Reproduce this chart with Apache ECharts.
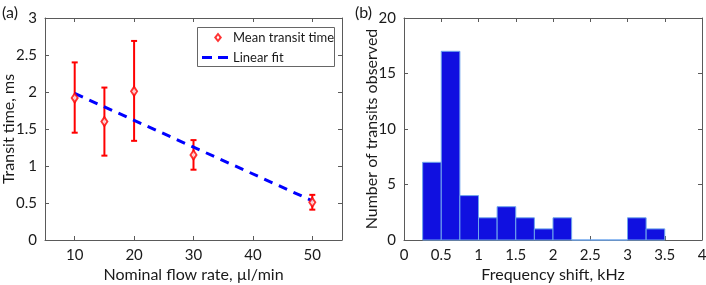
<!DOCTYPE html>
<html>
<head>
<meta charset="utf-8">
<script src="https://cdn.jsdelivr.net/npm/echarts@6/dist/echarts.min.js"></script>
<style>html,body{margin:0;padding:0;background:#fff}#c{width:706px;height:285px}</style>
</head>
<body>
<div id="c"></div>
<script>
// Panel (a) data
var flowRates = [10, 15, 20, 30, 50];
var meanTimes = [1.92, 1.60, 2.01, 1.15, 0.51];
var errLow = [1.45, 1.14, 1.34, 0.95, 0.41];
var errHigh = [2.40, 2.06, 2.69, 1.35, 0.61];
var fitX = [10, 50];
var fitY = [1.98, 0.53];
var flowTicks = [10, 20, 30, 40, 50];
// Panel (b) data
var binStarts = [0.25, 0.5, 0.75, 1.0, 1.25, 1.5, 1.75, 2.0, 2.25, 2.5, 2.75, 3.0, 3.25];
var binWidth = 0.25;
var counts = [7, 17, 4, 2, 3, 2, 1, 2, 0, 0, 0, 2, 1];

var FONT = 'Lato';
var AX = '#5a5a5a';
var TXT = '#1a1a1a';
var NAMESIZE = 16;

function axisBase(extra) {
  var a = {
    type: 'value',
    nameMoveOverlap: false,
    axisLine: {show: true, onZero: false, lineStyle: {color: AX, width: 1}},
    axisTick: {show: true, inside: true, length: 4, lineStyle: {color: AX}},
    axisLabel: {show: true, color: TXT, fontFamily: FONT, fontSize: 15, margin: 8},
    splitLine: {show: false},
    nameTextStyle: {color: TXT, fontFamily: FONT, fontSize: NAMESIZE}
  };
  for (var k in extra) a[k] = extra[k];
  return a;
}

var chart = echarts.init(document.getElementById('c'), null, {renderer: 'canvas'});

var errData = flowRates.map(function (x, i) { return [x, errLow[i], errHigh[i]]; });
var fitData = [[fitX[0], fitY[0], fitX[1], fitY[1]]];
var histData = binStarts.map(function (s, i) { return [s, s + binWidth, counts[i]]; });

var option = {
  animation: false,
  textStyle: {fontFamily: FONT},
  title: [
    {text: '(a)', left: 2, top: 5, padding: 0, textStyle: {fontFamily: FONT, fontSize: 16, fontWeight: 'normal', color: TXT}},
    {text: '(b)', left: 355, top: 5, padding: 0, textStyle: {fontFamily: FONT, fontSize: 16, fontWeight: 'normal', color: TXT}}
  ],
  graphic: [
    {type: 'rect', left: 197, top: 27, shape: {width: 137, height: 39},
      style: {fill: '#fff', stroke: '#666', lineWidth: 1}, z: 10}
  ],
  legend: [
    {
      left: 214, top: 31, padding: 0, itemWidth: 8, itemHeight: 10, z: 20,
      textStyle: {fontFamily: FONT, fontSize: 13, color: TXT, padding: [0, 0, 0, 6]},
      data: [{name: 'Mean transit time',
        icon: 'path://M4,0L8,5L4,10L0,5Z M4,3L2.6,5L4,7L5.4,5Z',
        itemStyle: {color: '#ff0000', borderWidth: 0}}]
    },
    {
      left: 202, top: 51, padding: 0, itemWidth: 26, itemHeight: 3, z: 20,
      textStyle: {fontFamily: FONT, fontSize: 13, color: TXT},
      data: [{name: 'Linear fit', icon: 'path://M0,0H10V3H0Z M16,0H26V3H16Z',
        itemStyle: {color: '#0000ff', borderWidth: 0}}]
    }
  ],
  grid: [
    {left: 45, top: 18, width: 297, height: 222, outerBoundsMode: 'none', containLabel: false},
    {left: 404, top: 18, width: 298, height: 222, outerBoundsMode: 'none', containLabel: false}
  ],
  xAxis: [
    axisBase({gridIndex: 0, position: 'bottom', min: 5, max: 55,
      name: 'Nominal flow rate, µl/min', nameLocation: 'middle', nameGap: 27,
      axisTick: {show: true, inside: true, length: 4, lineStyle: {color: AX}, customValues: flowTicks},
      axisLabel: {show: true, color: TXT, fontFamily: FONT, fontSize: 15, margin: 8, customValues: flowTicks}}),
    axisBase({gridIndex: 0, position: 'top', min: 5, max: 55,
      axisTick: {show: true, inside: true, length: 4, lineStyle: {color: AX}, customValues: flowTicks},
      axisLabel: {show: false}}),
    axisBase({gridIndex: 1, position: 'bottom', min: 0, max: 4, interval: 0.5,
      name: 'Frequency shift, kHz', nameLocation: 'middle', nameGap: 27}),
    axisBase({gridIndex: 1, position: 'top', min: 0, max: 4, interval: 0.5, axisLabel: {show: false}})
  ],
  yAxis: [
    axisBase({gridIndex: 0, position: 'left', min: 0, max: 3, interval: 0.5,
      name: 'Transit time, ms', nameLocation: 'middle', nameGap: 28}),
    axisBase({gridIndex: 0, position: 'right', min: 0, max: 3, interval: 0.5, axisLabel: {show: false}}),
    axisBase({gridIndex: 1, position: 'left', min: 0, max: 20, interval: 5,
      name: 'Number of transits observed', nameLocation: 'middle', nameGap: 24}),
    axisBase({gridIndex: 1, position: 'right', min: 0, max: 20, interval: 5, axisLabel: {show: false}})
  ],
  series: [
    {
      type: 'custom', name: 'errorbars', xAxisIndex: 0, yAxisIndex: 0, z: 3,
      data: errData,
      renderItem: function (params, api) {
        var x = api.value(0);
        var p1 = api.coord([x, api.value(1)]);
        var p2 = api.coord([x, api.value(2)]);
        var hw = 3;
        var st = {stroke: '#ff0000', lineWidth: 2};
        return {type: 'group', children: [
          {type: 'line', shape: {x1: p1[0], y1: p1[1], x2: p2[0], y2: p2[1]}, style: st},
          {type: 'line', shape: {x1: p1[0] - hw, y1: p1[1], x2: p1[0] + hw, y2: p1[1]}, style: st},
          {type: 'line', shape: {x1: p2[0] - hw, y1: p2[1], x2: p2[0] + hw, y2: p2[1]}, style: st}
        ]};
      }
    },
    {
      type: 'custom', name: 'Linear fit', xAxisIndex: 0, yAxisIndex: 0, z: 4,
      data: fitData,
      itemStyle: {color: '#0000ff'},
      renderItem: function (params, api) {
        var a = api.coord([api.value(0), api.value(1)]);
        var b = api.coord([api.value(2), api.value(3)]);
        return {type: 'line', shape: {x1: a[0], y1: a[1], x2: b[0], y2: b[1]},
          style: {stroke: '#0000ff', lineWidth: 3, lineDash: [9, 7], fill: null}};
      }
    },
    {
      type: 'scatter', name: 'Mean transit time', xAxisIndex: 0, yAxisIndex: 0, z: 5,
      data: flowRates.map(function (x, i) { return [x, meanTimes[i]]; }),
      symbol: 'emptyDiamond', symbolSize: [6, 9],
      itemStyle: {color: '#ff0000', borderColor: '#ff0000', borderWidth: 2.5}
    },
    {
      type: 'custom', name: 'hist', xAxisIndex: 2, yAxisIndex: 2, z: 2,
      data: histData,
      renderItem: function (params, api) {
        var a = api.coord([api.value(0), api.value(2)]);
        var b = api.coord([api.value(1), 0]);
        return {type: 'rect', shape: {x: a[0], y: a[1], width: b[0] - a[0], height: b[1] - a[1]},
          style: {fill: '#1010e0', stroke: '#6fa6ec', lineWidth: 1}};
      }
    }
  ]
};
chart.setOption(option);
</script>
</body>
</html>
